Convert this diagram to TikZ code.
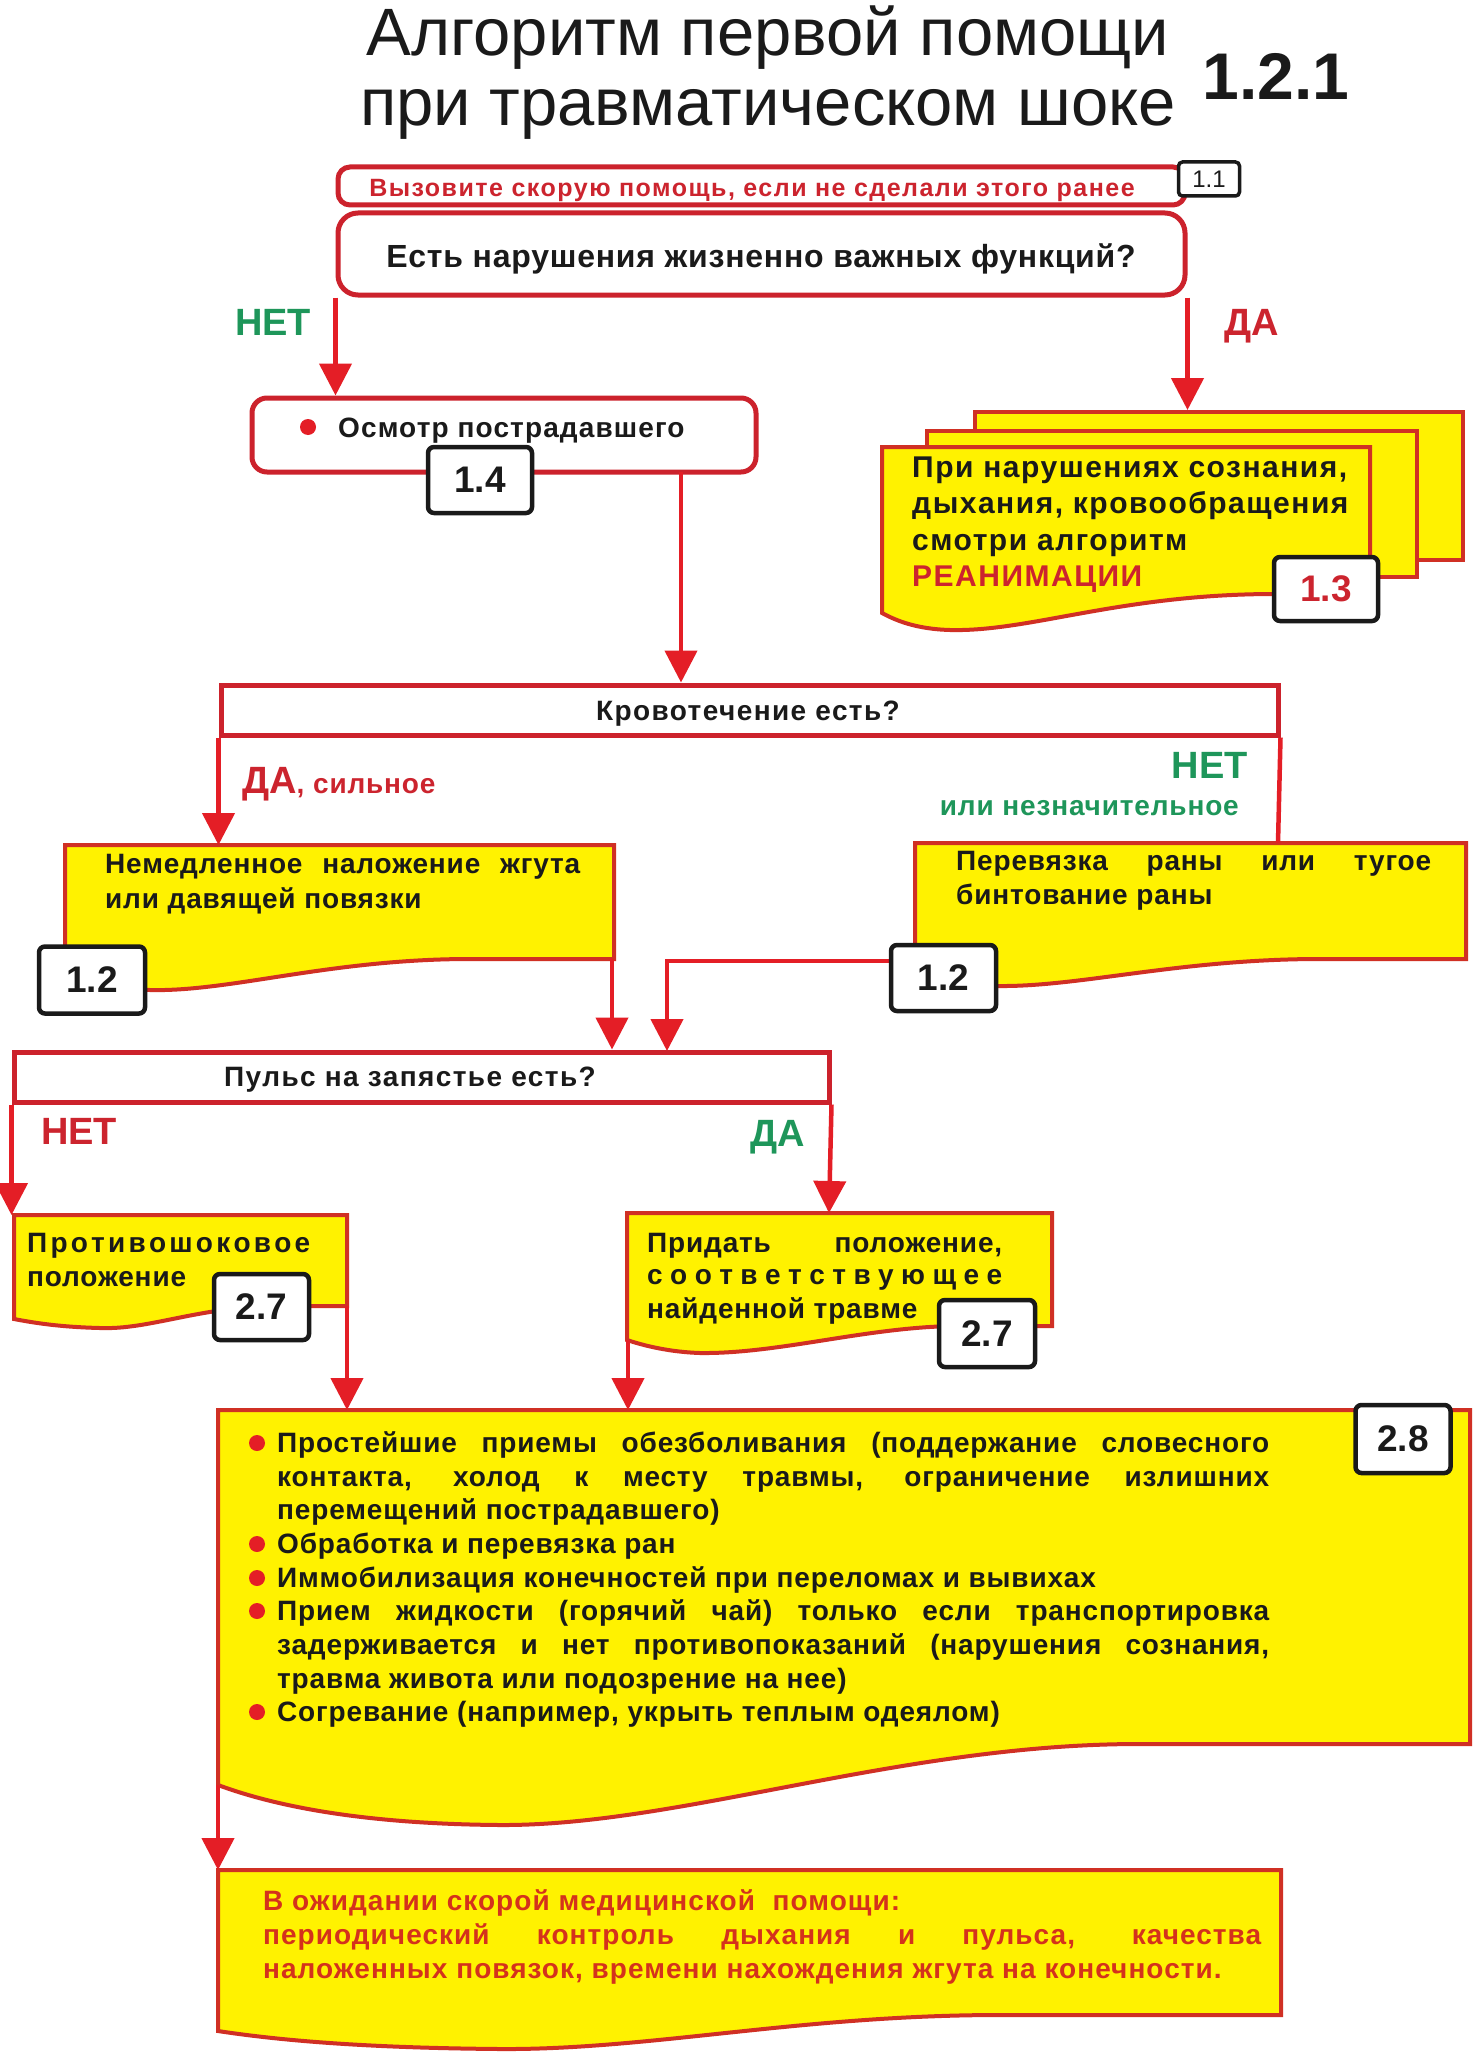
\documentclass[tikz,border=0pt]{standalone}
\usepackage{fontspec}
\setmainfont{Liberation Sans}
\usetikzlibrary{arrows.meta}
\definecolor{brd}{RGB}{204,34,44}
\definecolor{arrc}{RGB}{228,30,38}
\definecolor{yel}{RGB}{255,242,0}
\definecolor{ybrd}{RGB}{208,48,36}
\definecolor{grn}{RGB}{30,150,90}
\definecolor{rtxt}{RGB}{204,36,46}
\definecolor{otxt}{RGB}{212,50,28}
\definecolor{ink}{RGB}{26,26,26}
\newcommand{\jline}[2]{\makebox[#1][s]{#2}}
\newcommand{\fsz}[3]{\fontsize{#1}{#1}\selectfont\addfontfeatures{LetterSpace=#2}#3}
\begin{document}
\begin{tikzpicture}[x=1pt,y=-1pt,
 arr/.style={draw=arrc, line width=4.5pt, -{Triangle[width=32pt,length=32pt]}},
 ln/.style={draw=arrc, line width=4.5pt},
 rbox/.style={draw=brd, line width=5pt, fill=white, rounded corners=16pt, inner sep=0pt},
 sbox/.style={draw=brd, line width=5pt, fill=white, inner sep=0pt},
 ybox/.style={draw=ybrd, line width=4pt, fill=yel, inner sep=0pt},
 num/.style={draw=ink, line width=4.5pt, fill=white, rounded corners=6pt, inner sep=0pt, text=ink, font=\bfseries\fontsize{37}{37}\selectfont},
 tx/.style={inner sep=0pt, anchor=base west, text=ink, font=\bfseries\fsz{28}{3}{}},
 big/.style={font=\bfseries\fontsize{38}{38}\selectfont},
 dot/.style={circle, fill=arrc, minimum size=16pt, inner sep=0pt},
]
\fill[white] (0,0) rectangle (1480,2060);
\useasboundingbox (0,0) rectangle (1480,2060);

% title
\node[inner sep=0pt, anchor=base, text=ink, font=\fontsize{67}{67}\selectfont] (t1) at (768,56) {Алгоритм первой помощи};
\node[inner sep=0pt, anchor=base, text=ink, font=\fontsize{67}{67}\selectfont] (t2) at (768,126) {при травматическом шоке};
\node[inner sep=0pt, anchor=base, text=ink, font=\bfseries\fontsize{66}{66}\selectfont] (t3) at (1276,100) {1.2.1};

% call box
\node[rbox, rounded corners=12pt, minimum width=847pt, minimum height=38pt] (call) at (761.5,186) {};
\node[tx, anchor=base, text=rtxt, font=\bfseries\fsz{25}{6}{}] (callt) at (752,197) {Вызовите скорую помощь, если не сделали этого ранее};
\node[draw=ink, line width=3.5pt, fill=white, rounded corners=4pt, minimum width=61pt, minimum height=34pt, inner sep=0pt, text=ink, font=\fontsize{24}{24}\selectfont] (n11) at (1209,179) {1.1};

% question
\node[rbox, rounded corners=20pt, minimum width=847pt, minimum height=82pt] (q1) at (761.5,254) {};
\node[tx, anchor=base, font=\bfseries\fsz{32}{2.4}{}] (q1t) at (761,268) {Есть нарушения жизненно важных функций?};
\node[tx, big, text=grn] (net1) at (235,335) {НЕТ};
\node[tx, big, text=rtxt] (da1) at (1224,335) {ДА};

% osmotr
\node[rbox, rounded corners=15pt, minimum width=504pt, minimum height=74pt] (osm) at (504,435) {};
\node[dot] (b0) at (308,427) {};
\node[tx, font=\bfseries\fsz{28}{4}{}] (osmt) at (338,437) {Осмотр пострадавшего};
\node[num, minimum width=104pt, minimum height=66pt] (n14) at (480,480) {1.4};
\draw[arr] (q1.south west) -- (q1.south west |- osm.north);

% reanimation pages
\node[ybox, minimum width=488pt, minimum height=148pt] (pg3) at (1219,486) {};
\node[ybox, minimum width=490pt, minimum height=146pt] (pg2) at (1172,504) {};
\draw[ybox] (882,447) -- (1370,447) -- (1370,594) -- (1275,594)
  .. controls (1120,594) and (1030,632) .. (950,630)
  .. controls (915,629) and (895,620) .. (882,613) -- cycle;
\coordinate (pg1) at (882,447);
\node[tx, font=\bfseries\fsz{30}{5}{}] (r1) at (912,477) {При нарушениях сознания,};
\node[tx, font=\bfseries\fsz{30}{5}{}] (r2) at (912,513) {дыхания, кровообращения};
\node[tx, font=\bfseries\fsz{30}{5}{}] (r3) at (912,550) {смотри алгоритм};
\node[tx, font=\bfseries\fsz{30}{5}{}, text=rtxt] (r4) at (912,586) {РЕАНИМАЦИИ};
\node[num, text=rtxt, minimum width=104pt, minimum height=64pt] (n13) at (1326,589) {1.3};
\draw[arr] (q1.south east) -- (q1.south east |- pg3.north);

% bleeding question
\node[sbox, minimum width=1057pt, minimum height=50pt] (k) at (749.5,710) {};
\node[tx, anchor=base, font=\bfseries\fsz{28}{5}{}] (kt) at (748,720) {Кровотечение есть?};
\coordinate (o1) at (681,472);
\draw[arr] (o1) -- (o1 |- k.north);
\node[tx, text=rtxt] (da2) at (242,793) {{\fontsize{38}{38}\selectfont\addfontfeatures{LetterSpace=0}ДА}, сильное};
\node[tx, big, text=grn, anchor=base east] (net2) at (1248,778) {НЕТ};
\node[tx, text=grn, anchor=base east] (net2b) at (1239,815) {или незначительное};

% tourniquet box
\draw[ybox] (65,845) -- (614,845) -- (614,959) -- (470,959)
  .. controls (330,959) and (230,992) .. (150,990)
  .. controls (110,989) and (85,982) .. (65,975) -- cycle;
\coordinate (nemtl) at (65,845);
\coordinate (nemr) at (612,959);
\node[tx] (m1) at (105,873) {\jline{475pt}{Немедленное наложение жгута}};
\node[tx] (m2) at (105,908) {или давящей повязки};
\node[num, minimum width=106pt, minimum height=67pt] (n12a) at (92,980) {1.2};
\draw[arr] (k.south west) -- (k.south west |- nemtl);

% bandage box
\draw[ybox] (915,843) -- (1466,843) -- (1466,959) -- (1320,959)
  .. controls (1180,959) and (1080,987) .. (998,986)
  .. controls (960,985) and (935,980) .. (915,975) -- cycle;
\coordinate (pertop) at (1278,843);
\coordinate (perl) at (915,961);
\node[tx] (v1) at (956,870) {\jline{475pt}{Перевязка раны или тугое}};
\node[tx] (v2) at (956,904) {бинтование раны};
\draw[ln] (k.south east) -- (pertop);

% pulse question
\node[sbox, minimum width=815pt, minimum height=50pt] (p) at (421.5,1077) {};
\node[tx, anchor=base, font=\bfseries\fsz{28}{5}{}] (pt) at (410,1086) {Пульс на запястье есть?};
\draw[arr] (nemr) -- (nemr |- p.north);
\draw[ln, -{Triangle[width=32pt,length=32pt]}] (perl) -| (667,1051);
\node[num, minimum width=105pt, minimum height=66pt] (n12b) at (943.5,978) {1.2};
\node[tx, big, text=rtxt] (net3) at (41,1144) {НЕТ};
\node[tx, big, text=grn] (da3) at (750,1146) {ДА};

% antishock
\draw[ybox] (14,1215) -- (347,1215) -- (347,1306) -- (280,1306)
  .. controls (200,1306) and (150,1330) .. (100,1328)
  .. controls (60,1327) and (35,1323) .. (14,1319) -- cycle;
\coordinate (ash) at (14,1215);
\coordinate (ashr) at (347,1306);
\node[tx] (s1) at (27,1252) {\makebox[283pt][s]{П\hfill р\hfill о\hfill т\hfill и\hfill в\hfill о\hfill ш\hfill о\hfill к\hfill о\hfill в\hfill о\hfill е}};
\node[tx] (s2) at (27,1286) {положение};
\node[num, minimum width=95pt, minimum height=66pt] (n27a) at (261.5,1307) {2.7};
\draw[arr] (p.south west) -- (p.south west |- ash);

% position
\draw[ybox] (627,1213) -- (1052,1213) -- (1052,1326) -- (960,1326)
  .. controls (870,1326) and (780,1354) .. (700,1353)
  .. controls (670,1352) and (645,1346) .. (627,1340) -- cycle;
\coordinate (pos) at (829,1213);
\coordinate (posl) at (628,1340);
\node[tx] (w1) at (647,1252) {\jline{355pt}{Придать положение,}};
\node[tx] (w2) at (647,1284) {\makebox[355pt][s]{с\hfill о\hfill о\hfill т\hfill в\hfill е\hfill т\hfill с\hfill т\hfill в\hfill у\hfill ю\hfill щ\hfill е\hfill е}};
\node[tx] (w3) at (647,1318) {найденной травме};
\node[num, minimum width=96pt, minimum height=67pt] (n27b) at (987,1333.5) {2.7};
\draw[arr] (p.south east) -- (pos);

% big box
\draw[ybox] (218,1410) -- (1470,1410) -- (1470,1744) -- (1139,1744)
  .. controls (900,1744) and (680,1826) .. (500,1825)
  .. controls (370,1824) and (280,1808) .. (218,1785) -- cycle;
\coordinate (bigl) at (218,1785);
\draw[arr] (ashr) -- (ashr |- 0,1410);
\draw[arr] (posl) -- (posl |- 0,1410);
\node[dot] (d1) at (257,1443) {};
\node[dot] (d4) at (257,1544) {};
\node[dot] (d5) at (257,1578) {};
\node[dot] (d6) at (257,1611) {};
\node[dot] (d9) at (257,1712) {};
\node[tx] (l1) at (277,1452) {\jline{992pt}{Простейшие приемы обезболивания (поддержание словесного}};
\node[tx] (l2) at (277,1486) {\jline{992pt}{контакта, холод к месту травмы, ограничение излишних}};
\node[tx] (l3) at (277,1519) {перемещений пострадавшего)};
\node[tx] (l4) at (277,1553) {Обработка и перевязка ран};
\node[tx] (l5) at (277,1587) {Иммобилизация конечностей при переломах и вывихах};
\node[tx] (l6) at (277,1620) {\jline{992pt}{Прием жидкости (горячий чай) только если транспортировка}};
\node[tx] (l7) at (277,1654) {\jline{992pt}{задерживается и нет противопоказаний (нарушения сознания,}};
\node[tx] (l8) at (277,1688) {травма живота или подозрение на нее)};
\node[tx] (l9) at (277,1721) {Согревание (например, укрыть теплым одеялом)};
\node[num, minimum width=95pt, minimum height=68pt] (n28) at (1403,1439) {2.8};

% bottom box
\draw[ybox] (218,1870) -- (1281,1870) -- (1281,2015) -- (1000,2015)
  .. controls (800,2015) and (650,2050) .. (500,2049)
  .. controls (380,2048) and (290,2042) .. (218,2031) -- cycle;
\coordinate (bot) at (218,1870);
\draw[arr] (bigl) -- (bot);
\node[tx, text=otxt, font=\bfseries\fsz{28}{3.7}{}] (e1) at (263,1910) {В ожидании скорой медицинской\ \ помощи:};
\node[tx, text=otxt, font=\bfseries\fsz{28}{3.7}{}] (e2) at (263,1944) {\jline{998pt}{периодический контроль дыхания и пульса, качества}};
\node[tx, text=otxt, font=\bfseries\fsz{28}{3.7}{}] (e3) at (263,1978) {наложенных повязок, времени нахождения жгута на конечности.};
\end{tikzpicture}
\end{document}
